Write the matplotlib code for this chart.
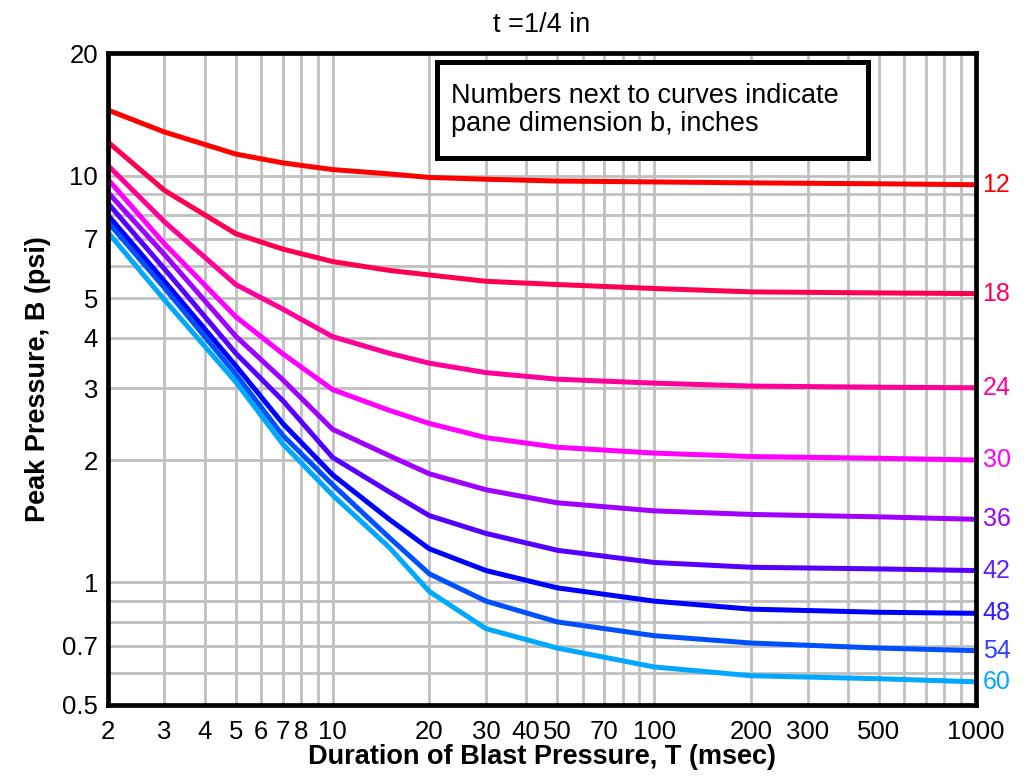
import matplotlib
matplotlib.use("Agg")
import matplotlib.pyplot as plt
import matplotlib.ticker as ticker
import matplotlib.transforms as mtransforms
from matplotlib.patches import Rectangle

plt.rcParams["font.family"] = ["Liberation Sans", "DejaVu Sans"]

# duration of blast pressure T (msec)
duration = [2, 3, 5, 7, 10, 15, 20, 30, 50, 100, 200, 500, 1000]

# pane dimension b (inches)
pane_b = [12, 18, 24, 30, 36, 42, 48, 54, 60]

# peak pressure B (psi), one list per pane dimension
b12 = [14.5, 12.8, 11.3, 10.75, 10.35, 10.1, 9.9, 9.8, 9.7, 9.65, 9.6, 9.55, 9.5]
b18 = [12.1, 9.2, 7.2, 6.6, 6.15, 5.85, 5.7, 5.5, 5.4, 5.28, 5.18, 5.15, 5.13]
b24 = [10.6, 7.7, 5.4, 4.7, 4.02, 3.66, 3.46, 3.28, 3.16, 3.09, 3.04, 3.02, 3.01]
b30 = [9.8, 6.8, 4.5, 3.65, 2.98, 2.65, 2.46, 2.27, 2.15, 2.08, 2.04, 2.02, 2.0]
b36 = [9.1, 6.4, 4.03, 3.15, 2.38, 2.05, 1.85, 1.69, 1.57, 1.50, 1.47, 1.45, 1.43]
b42 = [8.56, 5.9, 3.66, 2.8, 2.03, 1.67, 1.46, 1.32, 1.20, 1.12, 1.09, 1.08, 1.07]
b48 = [8.0, 5.5, 3.41, 2.46, 1.84, 1.43, 1.21, 1.07, 0.97, 0.90, 0.86, 0.845, 0.84]
b54 = [7.69, 5.3, 3.25, 2.3, 1.74, 1.29, 1.05, 0.90, 0.80, 0.74, 0.71, 0.69, 0.68]
b60 = [7.26, 4.95, 3.11, 2.19, 1.64, 1.22, 0.95, 0.77, 0.69, 0.62, 0.59, 0.58, 0.57]
pressures = [b12, b18, b24, b30, b36, b42, b48, b54, b60]

colors = ["#ff0000", "#ff0050", "#ff0099", "#ff00ff", "#a000ff",
          "#5500ff", "#0000ff", "#0050ff", "#00a8ff"]
label_colors = ["#ff0000", "#ff0050", "#ff0099", "#ff00ff", "#a000ff",
                "#6020ff", "#3020ff", "#3040ff", "#00a8ff"]

x_labels = [2, 3, 4, 5, 6, 7, 8, 10, 20, 30, 40, 50, 70, 100, 200, 300, 500, 1000]
x_grid = [3, 4, 5, 6, 7, 8, 9, 10, 20, 30, 40, 50, 60, 70, 80, 90,
          100, 200, 300, 400, 500, 600, 700, 800, 900]
y_labels = [0.5, 0.7, 1, 2, 3, 4, 5, 7, 10, 20]
y_grid = [0.6, 0.7, 0.8, 0.9, 1, 2, 3, 4, 5, 6, 7, 8, 9, 10]

fig = plt.figure(figsize=(10.27, 7.82), dpi=100)
ax = fig.add_axes([0.105, 0.0985, 0.845, 0.8335])

# grid drawn by hand, so lines at labelled ticks are kept
for gx in x_grid:
    ax.axvline(gx, color="#c0c0c0", lw=2.0, zorder=1)
for gy in y_grid:
    ax.axhline(gy, color="#c0c0c0", lw=2.0, zorder=1)

trans = mtransforms.blended_transform_factory(ax.transAxes, ax.transData)
for b, p, c, lc in zip(pane_b, pressures, colors, label_colors):
    ax.plot(duration, p, color=c, lw=3.6, zorder=3)
    # curve labels just right of the frame
    ax.text(1.008, p[-1], str(b), color=lc, fontsize=18, va="center",
            ha="left", transform=trans)

ax.set_xscale("log")
ax.set_yscale("log")
ax.set_xlim(2, 1000)
ax.set_ylim(0.5, 20)

ax.xaxis.set_major_locator(ticker.FixedLocator(x_labels))
ax.xaxis.set_major_formatter(ticker.FixedFormatter([str(v) for v in x_labels]))
ax.xaxis.set_minor_locator(ticker.NullLocator())
ax.yaxis.set_major_locator(ticker.FixedLocator(y_labels))
ax.yaxis.set_major_formatter(ticker.FixedFormatter([f"{v:g}" for v in y_labels]))
ax.yaxis.set_minor_locator(ticker.NullLocator())

ax.tick_params(which="both", length=0, labelsize=18.5)
ax.tick_params(axis="x", pad=11)
ax.tick_params(axis="y", pad=7)

for s in ax.spines.values():
    s.set_linewidth(3.4)
    s.set_zorder(4)

ax.set_title("t =1/4 in", fontsize=19.5, pad=15)
ax.set_xlabel("Duration of Blast Pressure, T (msec)", fontsize=19.5,
              fontweight="bold", labelpad=0)
ax.set_ylabel("Peak Pressure, B (psi)", fontsize=19.5, fontweight="bold",
              labelpad=8)

# note box
ax.add_patch(Rectangle((0.379, 0.839), 0.4965, 0.147, transform=ax.transAxes,
                       facecolor="white", edgecolor="black", lw=3.6, zorder=5))
ax.text(0.396, 0.9125, "Numbers next to curves indicate\npane dimension b, inches",
        transform=ax.transAxes, fontsize=19.5, va="center", ha="left",
        linespacing=1.1, zorder=6)

fig.savefig("out.png", dpi=100)
